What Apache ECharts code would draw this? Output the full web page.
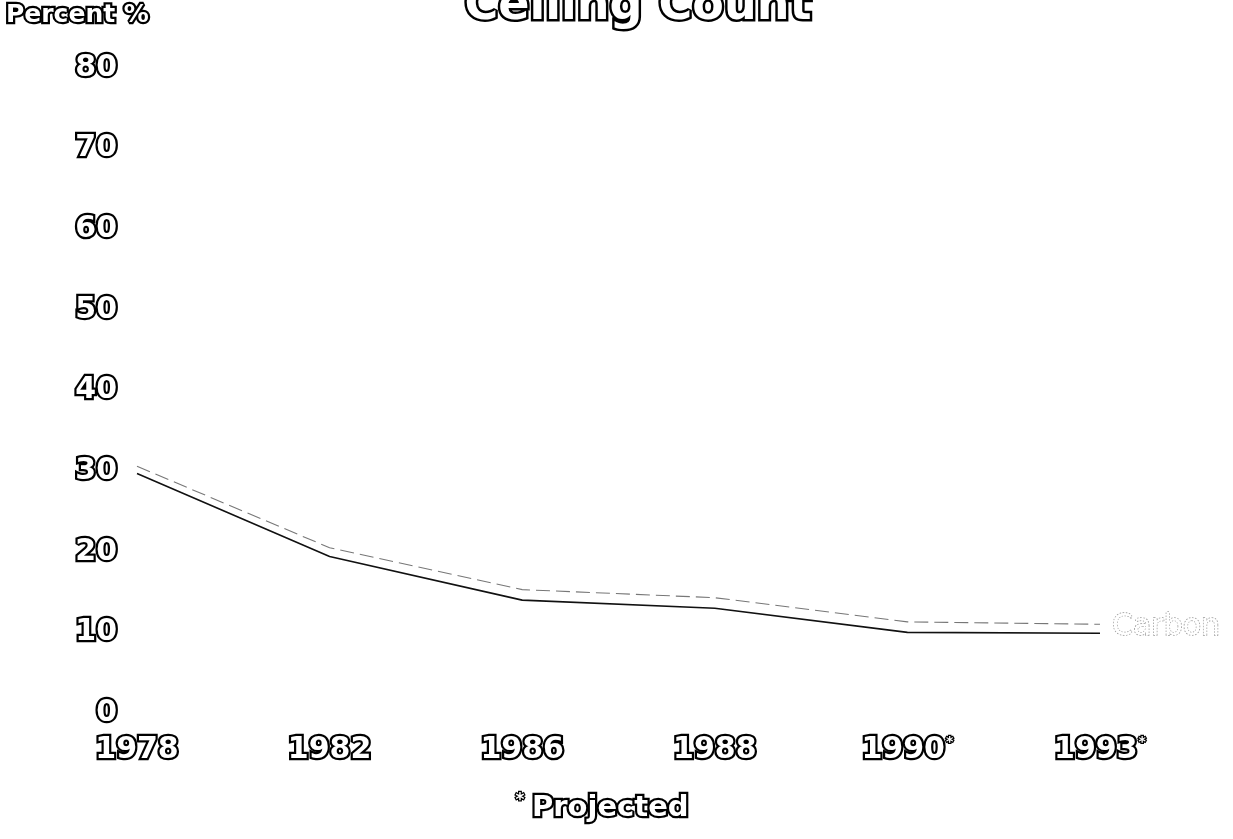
<!DOCTYPE html>
<html>
<head>
<meta charset="utf-8">
<script src="https://cdn.jsdelivr.net/npm/echarts@6/dist/echarts.min.js"></script>
<style>
  html, body { margin: 0; padding: 0; background: #fff; }
  #chart { width: 1233px; height: 839px; }
</style>
</head>
<body>
<div id="chart"></div>
<script>
// Survey years (the last two are projections)
const years = ['1978', '1982', '1986', '1988', '1990', '1993'];
const projectedYears = ['1990', '1993'];

// The carbon ribbon: lower (solid) and upper (broken) edges, percent
const carbonLower = [29.7, 19.4, 14.0, 13.0, 10.0, 9.9];
const carbonUpper = [30.6, 20.5, 15.3, 14.3, 11.3, 11.0];

const yTicks = { min: 0, max: 80, step: 10 };

const FONT = '"DejaVu Sans", "Liberation Sans", sans-serif';
// Hollow lettering: white fill with a black rim (label styles)
const hollow = {
  fontFamily: FONT,
  fontWeight: 'bold',
  color: '#fff',
  textBorderColor: '#000',
  textBorderWidth: 4.5
};
// Same lettering for free-standing graphic text
function hollowText(text, size, extra) {
  return Object.assign({
    text: text,
    fontFamily: FONT,
    fontWeight: 'bold',
    fontSize: size,
    fill: '#fff',
    stroke: '#000',
    lineWidth: 4.5
  }, extra || {});
}

const chart = echarts.init(document.getElementById('chart'));

chart.setOption({
  backgroundColor: '#fff',
  animation: false,
  graphic: [
    {
      type: 'text',
      x: 638,
      y: -16,
      style: hollowText('Ceiling Count', 46, { textAlign: 'center', textVerticalAlign: 'top', lineWidth: 5 })
    },
    {
      type: 'text',
      x: 6,
      y: 3,
      style: hollowText('Percent %', 25, { textVerticalAlign: 'top' })
    },
    {
      type: 'text',
      x: 520,
      y: 792,
      style: hollowText('*', 17, { textAlign: 'center', textVerticalAlign: 'top', lineWidth: 2.5 })
    },
    {
      type: 'text',
      x: 532,
      y: 808,
      style: hollowText('Projected', 29, { textAlign: 'left', textVerticalAlign: 'middle' })
    }
  ],
  grid: { left: 137, right: 133, top: 68, bottom: 126, containLabel: false },
  xAxis: {
    type: 'category',
    data: years,
    boundaryGap: false,
    axisLine: { show: false },
    axisTick: { show: false },
    splitLine: { show: false },
    axisLabel: {
      margin: 22,
      formatter: function (v) {
        return projectedYears.indexOf(v) >= 0 ? '{y|' + v + '}{s|*}' : '{y|' + v + '}';
      },
      rich: {
        y: Object.assign({}, hollow, { fontSize: 30 }),
        s: Object.assign({}, hollow, { fontSize: 14, textBorderWidth: 2.5, verticalAlign: 'top', padding: [0, 0, 14, 1] })
      }
    }
  },
  yAxis: {
    type: 'value',
    min: yTicks.min,
    max: yTicks.max,
    interval: yTicks.step,
    axisLine: { show: false },
    axisTick: { show: false },
    splitLine: { show: false },
    axisLabel: Object.assign({}, hollow, { fontSize: 30, margin: 20 })
  },
  series: [
    {
      name: 'Carbon',
      type: 'line',
      data: carbonLower,
      symbol: 'none',
      lineStyle: { color: '#111', width: 1.6 },
      z: 3
    },
    {
      name: 'Carbon upper edge',
      type: 'line',
      data: carbonUpper,
      symbol: 'none',
      lineStyle: { color: '#777', width: 1.1, type: [14, 6] },
      endLabel: {
        show: true,
        formatter: 'Carbon',
        distance: 12,
        offset: [0, 3],
        fontFamily: FONT,
        fontSize: 30,
        color: '#fff',
        textBorderColor: '#9a9a9a',
        textBorderWidth: 1.5,
        textBorderType: 'dotted'
      },
      z: 2
    }
  ]
});
</script>
</body>
</html>
